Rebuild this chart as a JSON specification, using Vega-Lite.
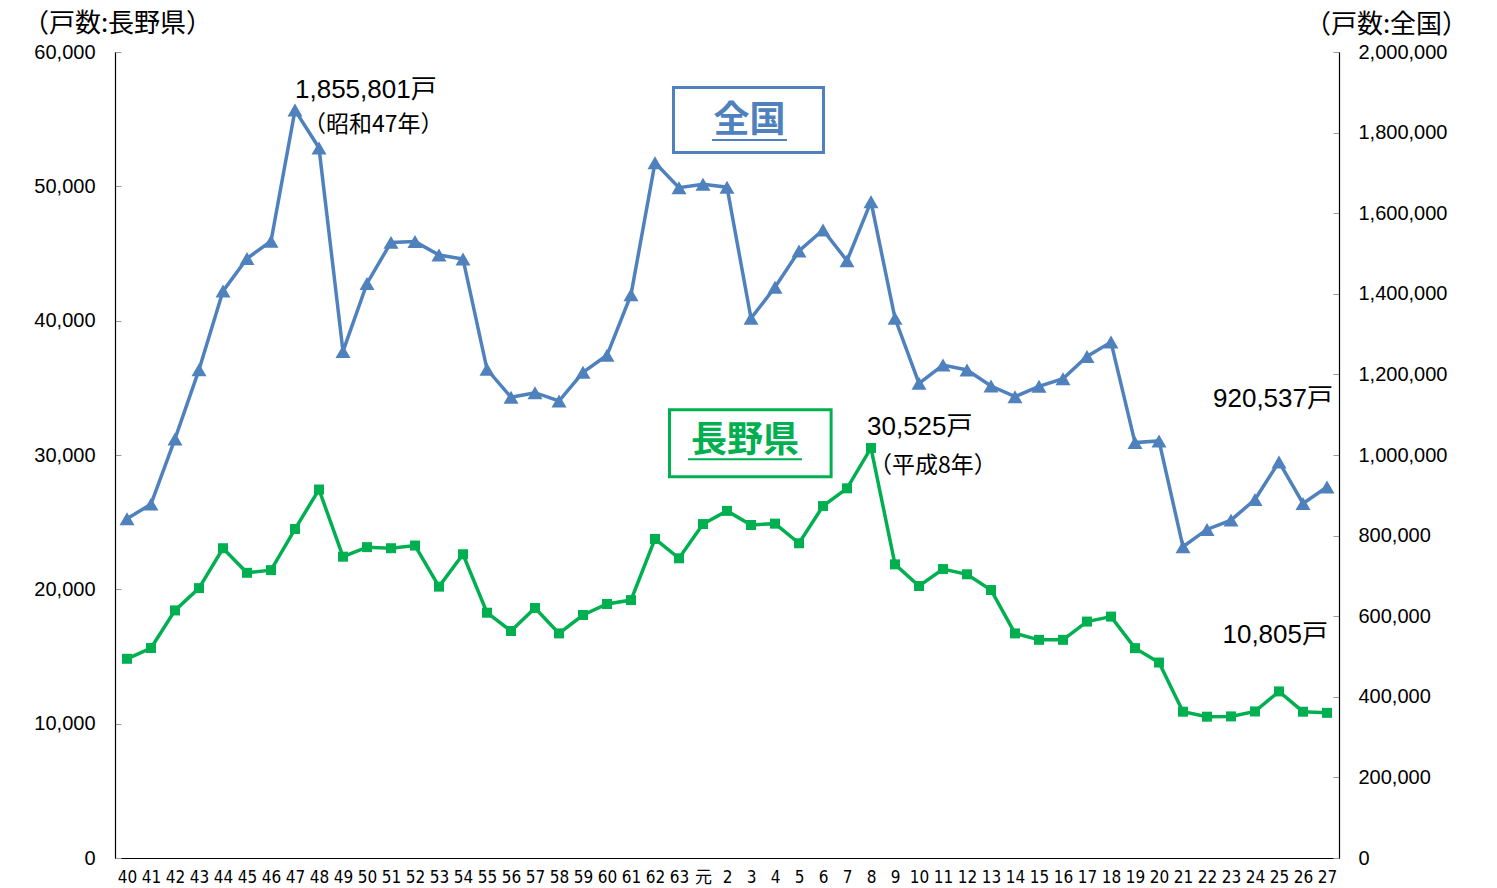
{
  "$schema": "https://vega.github.io/schema/vega-lite/v6.json",
  "width": 1224,
  "height": 806,
  "autosize": "none",
  "padding": {"left": 115, "top": 52, "right": 158, "bottom": 30},
  "background": "white",
  "config": {
    "view": {"stroke": null},
    "font": "Liberation Sans, Noto Sans CJK JP, sans-serif"
  },
  "datasets": {
    "main": [
      {"year": "40", "nagano": 14830, "zenkoku": 841900},
      {"year": "41", "nagano": 15630, "zenkoku": 878100},
      {"year": "42", "nagano": 18430, "zenkoku": 1040000},
      {"year": "43", "nagano": 20090, "zenkoku": 1211400},
      {"year": "44", "nagano": 23060, "zenkoku": 1406700},
      {"year": "45", "nagano": 21230, "zenkoku": 1487600},
      {"year": "46", "nagano": 21430, "zenkoku": 1530500},
      {"year": "47", "nagano": 24490, "zenkoku": 1855801},
      {"year": "48", "nagano": 27430, "zenkoku": 1761900},
      {"year": "49", "nagano": 22430, "zenkoku": 1257100},
      {"year": "50", "nagano": 23140, "zenkoku": 1425700},
      {"year": "51", "nagano": 23060, "zenkoku": 1527600},
      {"year": "52", "nagano": 23260, "zenkoku": 1529500},
      {"year": "53", "nagano": 20200, "zenkoku": 1496300},
      {"year": "54", "nagano": 22610, "zenkoku": 1486400},
      {"year": "55", "nagano": 18260, "zenkoku": 1212700},
      {"year": "56", "nagano": 16900, "zenkoku": 1143200},
      {"year": "57", "nagano": 18610, "zenkoku": 1154600},
      {"year": "58", "nagano": 16720, "zenkoku": 1134000},
      {"year": "59", "nagano": 18090, "zenkoku": 1205200},
      {"year": "60", "nagano": 18910, "zenkoku": 1247400},
      {"year": "61", "nagano": 19200, "zenkoku": 1397800},
      {"year": "62", "nagano": 23750, "zenkoku": 1725300},
      {"year": "63", "nagano": 22310, "zenkoku": 1663200},
      {"year": "元", "nagano": 24860, "zenkoku": 1671600},
      {"year": "2", "nagano": 25840, "zenkoku": 1664500},
      {"year": "3", "nagano": 24790, "zenkoku": 1339200},
      {"year": "4", "nagano": 24890, "zenkoku": 1416100},
      {"year": "5", "nagano": 23430, "zenkoku": 1506200},
      {"year": "6", "nagano": 26200, "zenkoku": 1558300},
      {"year": "7", "nagano": 27520, "zenkoku": 1482100},
      {"year": "8", "nagano": 30525, "zenkoku": 1628500},
      {"year": "9", "nagano": 21860, "zenkoku": 1339200},
      {"year": "10", "nagano": 20250, "zenkoku": 1177900},
      {"year": "11", "nagano": 21510, "zenkoku": 1223300},
      {"year": "12", "nagano": 21120, "zenkoku": 1210900},
      {"year": "13", "nagano": 19950, "zenkoku": 1171200},
      {"year": "14", "nagano": 16720, "zenkoku": 1144700},
      {"year": "15", "nagano": 16240, "zenkoku": 1170300},
      {"year": "16", "nagano": 16240, "zenkoku": 1189300},
      {"year": "17", "nagano": 17600, "zenkoku": 1244600},
      {"year": "18", "nagano": 17970, "zenkoku": 1280100},
      {"year": "19", "nagano": 15620, "zenkoku": 1030800},
      {"year": "20", "nagano": 14550, "zenkoku": 1034900},
      {"year": "21", "nagano": 10890, "zenkoku": 772300},
      {"year": "22", "nagano": 10520, "zenkoku": 815300},
      {"year": "23", "nagano": 10540, "zenkoku": 838400},
      {"year": "24", "nagano": 10910, "zenkoku": 889600},
      {"year": "25", "nagano": 12400, "zenkoku": 982900},
      {"year": "26", "nagano": 10890, "zenkoku": 879700},
      {"year": "27", "nagano": 10805, "zenkoku": 920537}
    ]
  },
  "encoding": {
    "x": {
      "field": "year",
      "type": "nominal",
      "scale": {
        "domain": ["40","41","42","43","44","45","46","47","48","49","50","51","52","53","54","55","56","57","58","59","60","61","62","63","元","2","3","4","5","6","7","8","9","10","11","12","13","14","15","16","17","18","19","20","21","22","23","24","25","26","27"]
      },
      "axis": {
        "title": null,
        "labelAngle": 0,
        "ticks": false,
        "domainColor": "black",
        "domainWidth": 1.2,
        "labelFontSize": 17,
        "labelFont": "Liberation Sans Narrow, DejaVu Sans Condensed, Noto Sans CJK JP, sans-serif",
        "labelColor": "black",
        "labelPadding": 11
      }
    }
  },
  "layer": [
    {
      "layer": [
        {
          "data": {"name": "main"},
          "mark": {
            "type": "line",
            "color": "#00b050",
            "strokeWidth": 3.5,
            "point": {"shape": "square", "size": 100, "filled": true, "color": "#00b050"}
          },
          "encoding": {
            "y": {
              "field": "nagano",
              "type": "quantitative",
              "scale": {"domain": [0, 60000], "nice": false, "zero": true},
              "axis": {
                "orient": "left",
                "values": [0, 10000, 20000, 30000, 40000, 50000, 60000],
                "format": ",d",
                "grid": false,
                "domainColor": "black",
                "domainWidth": 1.2,
                "tickColor": "#999999",
                "tickSize": -6,
                "labelPadding": 26,
                "labelFontSize": 20,
                "labelColor": "black",
                "title": "（戸数:長野県）",
                "titleAngle": 0,
                "titleAlign": "center",
                "titleBaseline": "middle",
                "titleX": 2,
                "titleY": -29,
                "titleFontSize": 26,
                "titleFontWeight": "normal",
                "titleColor": "black",
                "titleFont": "Noto Sans CJK JP"
              }
            }
          }
        },
        {
          "data": {"values": [{"year": "8", "nagano": 30525, "label": "30,525戸"}]},
          "mark": {"type": "text", "align": "left", "baseline": "middle", "dx": -4, "dy": -21, "fontSize": 26, "color": "black"},
          "encoding": {
            "y": {"field": "nagano", "type": "quantitative", "scale": {"domain": [0, 60000], "nice": false}},
            "text": {"field": "label"}
          }
        },
        {
          "data": {"values": [{"year": "8", "nagano": 30525, "label": "（平成8年）"}]},
          "mark": {"type": "text", "align": "left", "baseline": "middle", "dx": -2, "dy": 18, "fontSize": 23, "font": "Noto Sans CJK JP", "color": "black"},
          "encoding": {
            "y": {"field": "nagano", "type": "quantitative", "scale": {"domain": [0, 60000], "nice": false}},
            "text": {"field": "label"}
          }
        },
        {
          "data": {"values": [{"year": "27", "nagano": 10805, "label": "10,805戸"}]},
          "mark": {"type": "text", "align": "right", "baseline": "middle", "dx": 1, "dy": -78, "fontSize": 26, "color": "black"},
          "encoding": {
            "y": {"field": "nagano", "type": "quantitative", "scale": {"domain": [0, 60000], "nice": false}},
            "text": {"field": "label"}
          }
        },
        {
          "data": {"values": [{"year": "3", "nagano": 30870, "label": "長野県"}]},
          "mark": {"type": "point", "shape": "M-2.412,-1H2.412V1H-2.412Z", "size": 4489, "filled": false, "stroke": "#00b050", "strokeWidth": 3, "opacity": 1, "xOffset": -0.7},
          "encoding": {
            "y": {"field": "nagano", "type": "quantitative", "scale": {"domain": [0, 60000], "nice": false}}
          }
        },
        {
          "data": {"values": [{"year": "3", "nagano": 30870, "label": "長野県"}]},
          "mark": {"type": "text", "align": "center", "baseline": "middle", "dx": -6, "dy": -2, "fontSize": 36, "fontWeight": "bold", "font": "Noto Sans CJK JP", "color": "#00b050"},
          "encoding": {
            "y": {"field": "nagano", "type": "quantitative", "scale": {"domain": [0, 60000], "nice": false}},
            "text": {"field": "label"}
          }
        },
        {
          "data": {"values": [{"year": "3", "nagano": 30870, "label": "長野県"}]},
          "mark": {"type": "point", "shape": "M-1,0L1,0", "size": 12996, "filled": false, "stroke": "#00b050", "strokeWidth": 2, "opacity": 1, "xOffset": -6, "yOffset": 16},
          "encoding": {
            "y": {"field": "nagano", "type": "quantitative", "scale": {"domain": [0, 60000], "nice": false}}
          }
        }
      ]
    },
    {
      "layer": [
        {
          "data": {"name": "main"},
          "mark": {
            "type": "line",
            "color": "#4f81bd",
            "strokeWidth": 3.5,
            "point": {"shape": "triangle-up", "size": 225, "filled": true, "color": "#4f81bd"}
          },
          "encoding": {
            "y": {
              "field": "zenkoku",
              "type": "quantitative",
              "scale": {"domain": [0, 2000000], "nice": false, "zero": true},
              "axis": {
                "orient": "right",
                "values": [0, 200000, 400000, 600000, 800000, 1000000, 1200000, 1400000, 1600000, 1800000, 2000000],
                "format": ",d",
                "grid": false,
                "domainColor": "black",
                "domainWidth": 1.2,
                "tickColor": "#999999",
                "tickSize": -6,
                "labelPadding": 25,
                "labelFontSize": 20,
                "labelColor": "black",
                "title": "（戸数:全国）",
                "titleAngle": 0,
                "titleAlign": "center",
                "titleBaseline": "middle",
                "titleX": 47,
                "titleY": -28,
                "titleFontSize": 26,
                "titleFontWeight": "normal",
                "titleColor": "black",
                "titleFont": "Noto Sans CJK JP"
              }
            }
          }
        },
        {
          "data": {"values": [{"year": "47", "zenkoku": 1855801, "label": "1,855,801戸"}]},
          "mark": {"type": "text", "align": "left", "baseline": "middle", "dx": 0, "dy": -20, "fontSize": 26, "color": "black"},
          "encoding": {
            "y": {"field": "zenkoku", "type": "quantitative", "scale": {"domain": [0, 2000000], "nice": false}},
            "text": {"field": "label"}
          }
        },
        {
          "data": {"values": [{"year": "47", "zenkoku": 1855801, "label": "（昭和47年）"}]},
          "mark": {"type": "text", "align": "left", "baseline": "middle", "dx": 8, "dy": 15, "fontSize": 23, "font": "Noto Sans CJK JP", "color": "black"},
          "encoding": {
            "y": {"field": "zenkoku", "type": "quantitative", "scale": {"domain": [0, 2000000], "nice": false}},
            "text": {"field": "label"}
          }
        },
        {
          "data": {"values": [{"year": "27", "zenkoku": 920537, "label": "920,537戸"}]},
          "mark": {"type": "text", "align": "right", "baseline": "middle", "dx": 6, "dy": -88, "fontSize": 26, "color": "black"},
          "encoding": {
            "y": {"field": "zenkoku", "type": "quantitative", "scale": {"domain": [0, 2000000], "nice": false}},
            "text": {"field": "label"}
          }
        },
        {
          "data": {"values": [{"year": "3", "zenkoku": 1831300, "label": "全国"}]},
          "mark": {"type": "point", "shape": "M-2.308,-1H2.308V1H-2.308Z", "size": 4225, "filled": false, "stroke": "#4f81bd", "strokeWidth": 3, "opacity": 1, "xOffset": -2.5},
          "encoding": {
            "y": {"field": "zenkoku", "type": "quantitative", "scale": {"domain": [0, 2000000], "nice": false}}
          }
        },
        {
          "data": {"values": [{"year": "3", "zenkoku": 1831300, "label": "全国"}]},
          "mark": {"type": "text", "align": "center", "baseline": "middle", "dx": -1.5, "dy": 1.5, "fontSize": 36, "fontWeight": "bold", "font": "Noto Sans CJK JP", "color": "#4f81bd"},
          "encoding": {
            "y": {"field": "zenkoku", "type": "quantitative", "scale": {"domain": [0, 2000000], "nice": false}},
            "text": {"field": "label"}
          }
        },
        {
          "data": {"values": [{"year": "3", "zenkoku": 1831300, "label": "全国"}]},
          "mark": {"type": "point", "shape": "M-1,0L1,0", "size": 5625, "filled": false, "stroke": "#4f81bd", "strokeWidth": 2, "opacity": 1, "xOffset": -1.5, "yOffset": 20},
          "encoding": {
            "y": {"field": "zenkoku", "type": "quantitative", "scale": {"domain": [0, 2000000], "nice": false}}
          }
        }
      ]
    }
  ],
  "resolve": {"scale": {"y": "independent"}}
}
